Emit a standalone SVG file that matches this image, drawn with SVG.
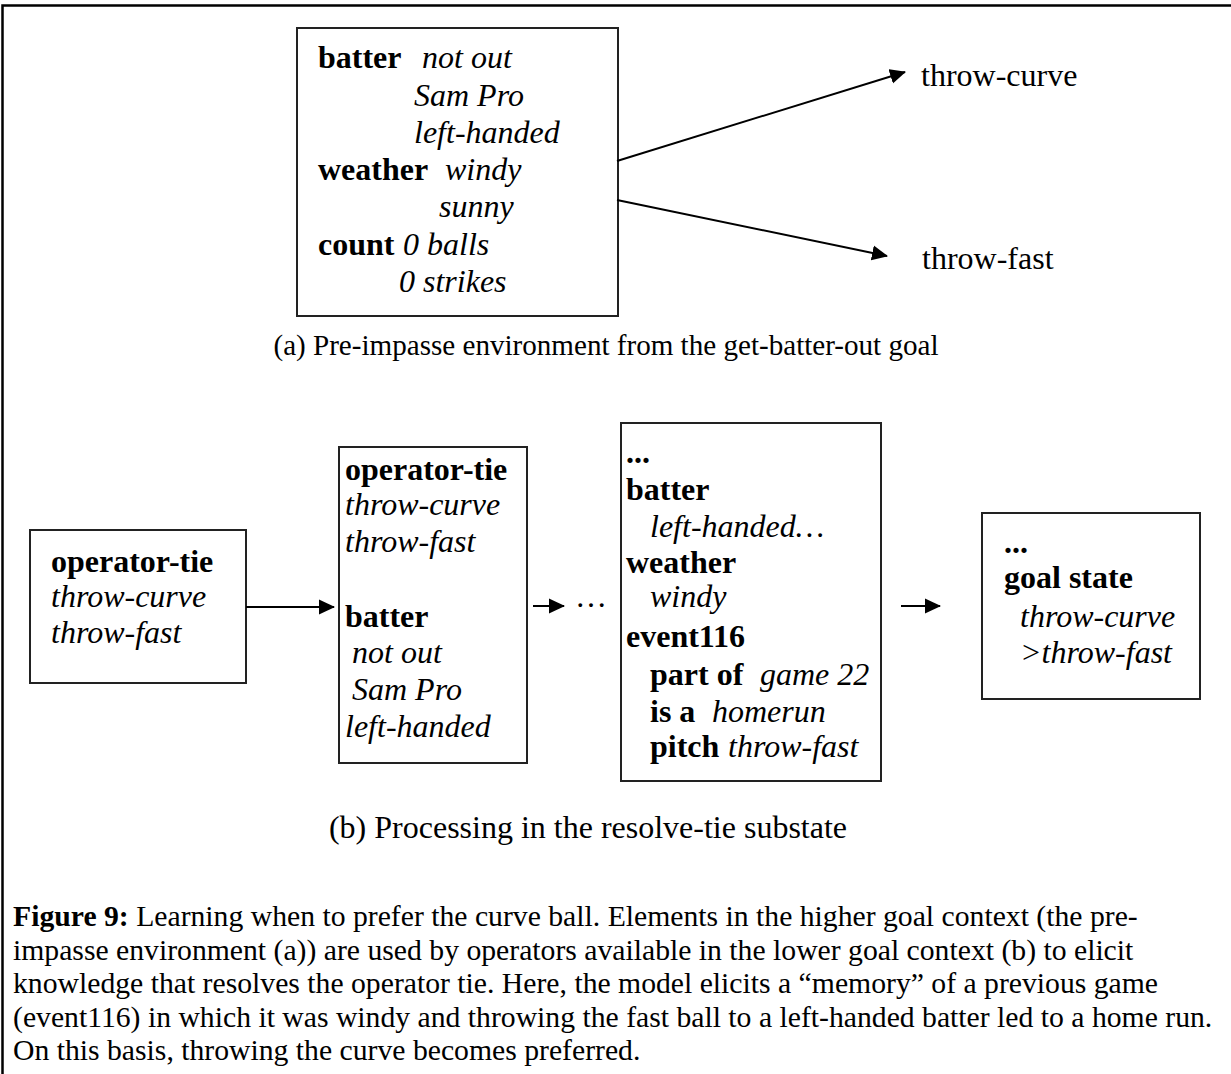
<svg xmlns="http://www.w3.org/2000/svg" width="1231" height="1074" viewBox="0 0 1231 1074">
  <defs>
    <style>
      text { font-family: "Liberation Serif", "Times New Roman", serif; font-size: 32px; fill: #000; }
      .b { font-weight: bold; }
      .i { font-style: italic; }
      .cap { font-size: 29.7px; }
      .sub-a { font-size: 29.1px; }
      .box { fill: #fff; stroke: #222; stroke-width: 2; }
      .edge { fill: none; stroke: #000; stroke-width: 2; }
    </style>
    <marker id="arrow" viewBox="0 0 16 16" refX="15" refY="8" markerWidth="16" markerHeight="16" markerUnits="userSpaceOnUse" orient="auto">
      <path d="M0,0.5 L16,8 L0,15.5 Z" fill="#000"/>
    </marker>
  </defs>

  <rect width="1231" height="1074" fill="#fff"/>
  <!-- figure frame (top and left edges visible) -->
  <path d="M1231,5.5 H2.5 V1074" fill="none" stroke="#000" stroke-width="2.5"/>

  <!-- (a) pre-impasse environment -->
  <g id="env">
    <rect class="box" x="297" y="28" width="321" height="288"/>
    <text x="318" y="68"><tspan class="b">batter</tspan><tspan class="i" x="422">not out</tspan></text>
    <text class="i" x="414" y="105.5">Sam Pro</text>
    <text class="i" x="414" y="143">left-handed</text>
    <text x="318" y="180"><tspan class="b">weather</tspan><tspan class="i" x="445">windy</tspan></text>
    <text class="i" x="439" y="217">sunny</text>
    <text x="318" y="254.5"><tspan class="b">count</tspan><tspan class="i" x="403">0 balls</tspan></text>
    <text class="i" x="399" y="292">0 strikes</text>
  </g>
  <g id="throw-curve"><text x="921" y="86">throw-curve</text></g>
  <g id="throw-fast"><text x="922" y="269">throw-fast</text></g>

  <text class="sub-a" x="606" y="355" text-anchor="middle">(a) Pre-impasse environment from the get-batter-out goal</text>

  <!-- (b) resolve-tie substate -->
  <g id="tie">
    <rect class="box" x="30" y="530" width="216" height="153"/>
    <text class="b" x="51" y="572">operator-tie</text>
    <text class="i" x="51" y="607">throw-curve</text>
    <text class="i" x="51" y="643">throw-fast</text>
  </g>

  <g id="substate">
    <rect class="box" x="339" y="447" width="188" height="316"/>
    <text class="b" x="345" y="480">operator-tie</text>
    <text class="i" x="345" y="515">throw-curve</text>
    <text class="i" x="345" y="552">throw-fast</text>
    <text class="b" x="345" y="627">batter</text>
    <text class="i" x="352" y="663">not out</text>
    <text class="i" x="352" y="700">Sam Pro</text>
    <text class="i" x="345" y="737">left-handed</text>
  </g>

  <g id="ellipsis"><text x="575" y="607">…</text></g>

  <g id="memory">
    <rect class="box" x="621" y="423" width="260" height="358"/>
    <text class="b" x="626" y="463">...</text>
    <text class="b" x="626" y="500">batter</text>
    <text class="i" x="650" y="537">left-handed…</text>
    <text class="b" x="626" y="573">weather</text>
    <text class="i" x="650" y="607">windy</text>
    <text class="b" x="626" y="647">event116</text>
    <text x="650" y="685"><tspan class="b">part of</tspan><tspan class="i" x="760">game 22</tspan></text>
    <text x="650" y="722"><tspan class="b">is a</tspan><tspan class="i" x="712">homerun</tspan></text>
    <text x="650" y="757"><tspan class="b">pitch</tspan><tspan class="i" x="728">throw-fast</tspan></text>
  </g>

  <g id="goal">
    <rect class="box" x="982" y="513" width="218" height="186"/>
    <text class="b" x="1004" y="553">...</text>
    <text class="b" x="1004" y="588">goal state</text>
    <text class="i" x="1020" y="627">throw-curve</text>
    <text class="i" x="1020" y="663">&gt;throw-fast</text>
  </g>

  <text x="588" y="838" text-anchor="middle">(b) Processing in the resolve-tie substate</text>

  <!-- connectors -->
  <g id="connectors">
    <line class="edge" x1="617" y1="161" x2="905" y2="72" marker-end="url(#arrow)"/>
    <line class="edge" x1="617" y1="200" x2="887" y2="256" marker-end="url(#arrow)"/>
    <line class="edge" x1="246" y1="607" x2="334" y2="607" marker-end="url(#arrow)"/>
    <line class="edge" x1="533" y1="606" x2="564" y2="606" marker-end="url(#arrow)"/>
    <line class="edge" x1="901" y1="606" x2="940" y2="606" marker-end="url(#arrow)"/>
  </g>

  <!-- figure caption -->
  <g id="caption">
    <text class="cap" x="13" y="926"><tspan class="b">Figure 9:</tspan> Learning when to prefer the curve ball. Elements in the higher goal context (the pre-</text>
    <text class="cap" x="13" y="960">impasse environment (a)) are used by operators available in the lower goal context (b) to elicit</text>
    <text class="cap" x="13" y="993">knowledge that resolves the operator tie. Here, the model elicits a “memory” of a previous game</text>
    <text class="cap" x="13" y="1027">(event116) in which it was windy and throwing the fast ball to a left-handed batter led to a home run.</text>
    <text class="cap" x="13" y="1060">On this basis, throwing the curve becomes preferred.</text>
  </g>
</svg>
